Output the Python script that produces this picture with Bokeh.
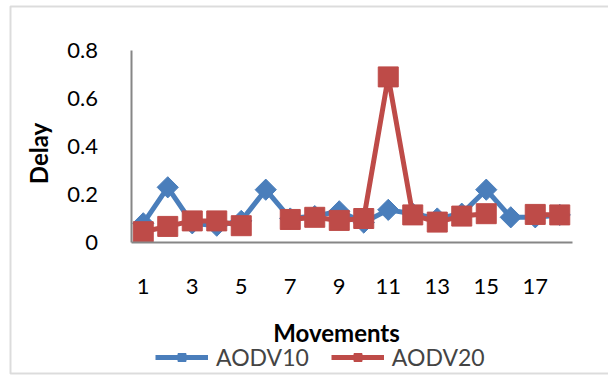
import numpy as np
from bokeh.plotting import figure
from bokeh.models import (ColumnDataSource, FixedTicker, Legend, LegendItem,
                          Label, BoxAnnotation, Range1d)
from bokeh.embed import file_html
from bokeh.resources import INLINE

# Delay per movement for the two AODV scenarios
movements = list(range(1, 19))
aodv10 = [0.08, 0.23, 0.08, 0.07, 0.09, 0.22, 0.10, 0.11, 0.13,
          0.083, 0.136, 0.12, 0.10, 0.12, 0.22, 0.105, 0.105, 0.115]
aodv20 = [0.045, 0.067, 0.09, 0.09, 0.07, np.nan, 0.096, 0.105, 0.092,
          0.10, 0.69, 0.115, 0.085, 0.11, 0.12, np.nan, 0.117, 0.115]

x_ticks = [1, 3, 5, 7, 9, 11, 13, 15, 17]
y_ticks = [0, 0.2, 0.4, 0.6, 0.8]
y_tick_labels = ["0", "0.2", "0.4", "0.6", "0.8"]

FONT = "Lato"
BLUE = "#4A7EBB"
RED = "#BE4B48"
AXIS = "#868686"
BORDER = "#8C8C8C"

# Canvas layout: the frame fills the whole canvas, the axes sit at fixed
# positions inside it so the titles and legend can live in the same space.
W, H = 608, 376
PLOT_LEFT = 130.5      # left edge of the category band, px
BAND = 24.5            # px per category
ZERO_Y = 242           # px of the value 0 from the top
PX_PER_UNIT = 240      # px per unit of delay

x_start = 0.5 - PLOT_LEFT / BAND
y_start = -(H - ZERO_Y) / PX_PER_UNIT

src = ColumnDataSource(dict(x=movements, a10=aodv10, a20=aodv20))

p = figure(width=W, height=H, output_backend="svg", toolbar_location=None,
           x_range=Range1d(x_start, x_start + W / BAND),
           y_range=Range1d(y_start, y_start + H / PX_PER_UNIT),
           min_border=0)
p.outline_line_color = None
p.grid.grid_line_color = None
p.background_fill_color = "white"
p.border_fill_color = "white"

# axes, anchored at the origin of the category/value space
p.xaxis.fixed_location = 0
p.yaxis.fixed_location = 0.5
p.xaxis.bounds = (0.5, len(movements) + 0.5)
p.yaxis.bounds = (0, 0.8)
p.xaxis.ticker = FixedTicker(ticks=x_ticks)
p.yaxis.ticker = FixedTicker(ticks=y_ticks)
p.yaxis.major_label_overrides = {t: l for t, l in zip(y_ticks, y_tick_labels)}
for ax in (p.xaxis[0], p.yaxis[0]):
    ax.axis_line_color = AXIS
    ax.axis_line_width = 2
    ax.major_tick_line_color = None
    ax.minor_tick_line_color = None
    ax.major_label_text_font = FONT
    ax.major_label_text_font_size = "22px"
    ax.major_label_text_color = "black"
p.xaxis.major_label_standoff = 30
p.yaxis.major_label_standoff = 27

# axis titles
p.add_layout(Label(x=336, y=H - 332, x_units="screen", y_units="screen",
                   text="Movements", text_align="center", text_baseline="middle",
                   text_font=FONT, text_font_style="bold",
                   text_font_size="24px", text_color="black"))
p.add_layout(Label(x=38, y=H - 153, x_units="screen", y_units="screen",
                   text="Delay", angle=np.pi / 2,
                   text_align="center", text_baseline="middle",
                   text_font=FONT, text_font_style="bold",
                   text_font_size="24px", text_color="black"))

# series
l10 = p.line("x", "a10", source=src, line_color=BLUE, line_width=5)
m10 = p.scatter("x", "a10", source=src, marker="square", angle=np.pi / 4,
                size=15, fill_color=BLUE, line_color=BLUE)
l20 = p.line("x", "a20", source=src, line_color=RED, line_width=5)
m20 = p.scatter("x", "a20", source=src, marker="square", size=20,
                fill_color=RED, line_color=RED)

legend = Legend(items=[LegendItem(label="AODV10", renderers=[l10, m10]),
                       LegendItem(label="AODV20", renderers=[l20, m20])],
                orientation="horizontal", location=(155, 5),
                padding=0, margin=0, spacing=22, label_standoff=8,
                glyph_width=53, glyph_height=20,
                label_text_font=FONT, label_text_font_size="23px",
                background_fill_alpha=0, border_line_color=None)
p.add_layout(legend, "center")

# chart-area border (its right edge runs past the canvas)
p.add_layout(BoxAnnotation(left=10, right=W + 20, top=H - 6, bottom=3,
                           left_units="screen", right_units="screen",
                           top_units="screen", bottom_units="screen",
                           fill_alpha=0, line_color=BORDER, line_width=2))

open("out.html", "w").write(file_html(p, INLINE))
